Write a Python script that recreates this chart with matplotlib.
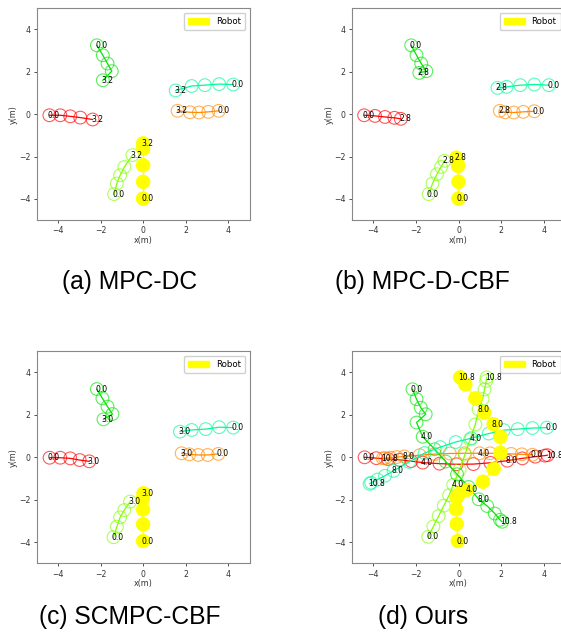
import matplotlib
matplotlib.use("Agg")
import matplotlib.pyplot as plt
from matplotlib.patches import Circle, Patch

# ---------------- data ----------------
robot_colors = ["#FF0000", "#FF8C00", "#FFFF00", "#80FF00", "#00E600", "#00FA9A"]
# order: red, orange, yellow(filled), chartreuse, green, spring green

# Panel (a) MPC-DC
a_times = [0.0, 0.8, 1.6, 2.4, 3.2]
a_x = [[-4.40, -3.89, -3.42, -2.95, -2.37],
       [3.55, 3.06, 2.62, 2.20, 1.62],
       [0.00, 0.00, 0.00, 0.00, 0.00],
       [-1.36, -1.23, -1.08, -0.88, -0.50],
       [-2.17, -1.89, -1.67, -1.47, -1.89],
       [4.23, 3.57, 2.90, 2.28, 1.53]]
a_y = [[-0.05, -0.05, -0.10, -0.16, -0.25],
       [0.16, 0.11, 0.08, 0.09, 0.16],
       [-3.98, -3.19, -2.41, -1.62, -1.38],
       [-3.77, -3.27, -2.88, -2.49, -1.93],
       [3.25, 2.78, 2.39, 2.03, 1.60],
       [1.40, 1.42, 1.37, 1.33, 1.12]]
a_label_idx = [0, 4]

# Panel (b) MPC-D-CBF
b_times = [0.0, 0.8, 1.6, 2.4, 2.8]
b_x = [[-4.43, -3.92, -3.45, -3.01, -2.71],
       [3.56, 3.04, 2.59, 2.19, 1.94],
       [0.00, 0.00, -0.02, -0.06, -0.10],
       [-1.40, -1.22, -1.01, -0.82, -0.66],
       [-2.22, -1.97, -1.75, -1.51, -1.84],
       [4.24, 3.56, 2.90, 2.26, 1.83]]
b_y = [[-0.05, -0.08, -0.13, -0.17, -0.22],
       [0.14, 0.11, 0.08, 0.09, 0.16],
       [-3.98, -3.19, -2.44, -2.25, -2.05],
       [-3.77, -3.27, -2.83, -2.49, -2.20],
       [3.25, 2.78, 2.39, 2.03, 1.95],
       [1.37, 1.40, 1.37, 1.29, 1.24]]
b_label_idx = [0, 4]

# Panel (c) SCMPC-CBF
c_times = [0.0, 0.8, 1.6, 2.4, 3.0]
c_x = [[-4.39, -3.89, -3.42, -2.98, -2.53],
       [3.53, 3.03, 2.59, 2.17, 1.81],
       [0.00, 0.00, 0.00, -0.02, 0.02],
       [-1.39, -1.23, -1.08, -0.88, -0.61],
       [-2.17, -1.91, -1.67, -1.44, -1.86],
       [4.23, 3.57, 2.94, 2.28, 1.73]]
c_y = [[-0.02, -0.02, -0.05, -0.13, -0.19],
       [0.16, 0.11, 0.11, 0.14, 0.19],
       [-3.95, -3.16, -2.46, -1.98, -1.70],
       [-3.77, -3.27, -2.83, -2.49, -2.09],
       [3.22, 2.78, 2.39, 2.04, 1.79],
       [1.40, 1.42, 1.33, 1.29, 1.21]]
c_label_idx = [0, 4]

# Panel (d) Ours
d_times = [0.0, 0.8, 1.6, 2.4, 3.2, 4.0, 4.8, 5.6, 6.4, 7.2, 8.0, 8.8, 9.6, 10.4, 10.8]
d_x = [[-4.41, -3.86, -3.31, -2.77, -2.22, -1.68, -0.89, -0.09, 0.70, 1.50, 2.29, 3.00, 3.60, 4.05, 4.18],
       [3.47, 2.97, 2.47, 1.98, 1.48, 0.99, 0.29, -0.41, -1.11, -1.82, -2.55, -2.90, -3.20, -3.45, -3.55],
       [-0.03, -0.08, -0.11, -0.08, 0.10, 0.40, 1.15, 1.65, 1.97, 1.97, 1.65, 1.21, 0.79, 0.32, 0.08],
       [-1.42, -1.18, -0.93, -0.69, -0.44, -0.25, 0.05, 0.30, 0.54, 0.79, 0.95, 1.13, 1.22, 1.30, 1.32],
       [-2.16, -1.97, -1.77, -1.54, -1.97, -1.68, -1.12, -0.60, -0.07, 0.47, 0.95, 1.35, 1.70, 1.95, 2.05],
       [4.15, 3.47, 2.78, 2.13, 1.42, 0.60, -0.13, -0.86, -1.59, -2.32, -3.05, -3.45, -3.80, -4.10, -4.17]]
d_y = [[0.00, -0.04, -0.08, -0.12, -0.18, -0.25, -0.30, -0.33, -0.32, -0.26, -0.16, -0.05, 0.03, 0.08, 0.10],
       [0.12, 0.14, 0.16, 0.18, 0.19, 0.19, 0.19, 0.18, 0.15, 0.10, 0.04, 0.01, -0.02, -0.04, -0.05],
       [-3.95, -3.14, -2.44, -1.90, -1.65, -1.54, -1.15, -0.55, 0.22, 0.97, 1.56, 2.11, 2.78, 3.44, 3.77],
       [-3.75, -3.26, -2.77, -2.28, -1.79, -1.30, -0.59, 0.12, 0.84, 1.55, 2.26, 2.75, 3.20, 3.60, 3.77],
       [3.21, 2.74, 2.34, 2.03, 1.64, 0.97, 0.38, -0.20, -0.80, -1.40, -1.98, -2.30, -2.65, -2.95, -3.04],
       [1.40, 1.38, 1.33, 1.28, 1.12, 0.90, 0.72, 0.48, 0.20, -0.22, -0.64, -0.87, -1.05, -1.20, -1.25]]
d_label_idx = [0, 5, 10, 14]

captions = ["(a) MPC-DC", "(b) MPC-D-CBF", "(c) SCMPC-CBF", "(d) Ours"]
ticks = [-4, -2, 0, 2, 4]
legend_label = "Robot"

# ---------------- layout ----------------
W, H = 561, 633
fig = plt.figure(figsize=(W / 100, H / 100), dpi=100)

def ax_rect(left_px, top_px, w_px=213, h_px=212):
    return [left_px / W, 1 - (top_px + h_px) / H, w_px / W, h_px / H]

panels = [
    (ax_rect(36.6, 8.2), a_times, a_x, a_y, a_label_idx),
    (ax_rect(352.0, 8.2), b_times, b_x, b_y, b_label_idx),
    (ax_rect(36.6, 351.3), c_times, c_x, c_y, c_label_idx),
    (ax_rect(352.0, 351.3), d_times, d_x, d_y, d_label_idx),
]
caption_pos = [(130, 282), (422, 282), (130, 617), (423, 617)]

R = 0.3
for rect, times, xs, ys, lab_idx in panels:
    ax = fig.add_axes(rect)
    ax.set_xlim(-5, 5)
    ax.set_ylim(-5, 5)
    for k, (xr, yr) in enumerate(zip(xs, ys)):
        col = robot_colors[k]
        filled = (k == 2)
        ax.plot(xr, yr, color=col, lw=0.9, zorder=3 if not filled else 4)
        for px, py in zip(xr, yr):
            if filled:
                ax.add_patch(Circle((px, py), R + 0.02, facecolor=col, edgecolor=col,
                                    lw=0.6, zorder=4))
            else:
                ax.add_patch(Circle((px, py), R, fill=False, edgecolor=col,
                                    lw=0.8, alpha=0.65, zorder=3))
        for i in lab_idx:
            ax.text(xr[i] - 0.08, yr[i], f"{times[i]:.1f}", fontsize=5.5,
                    ha="left", va="center", color="black", zorder=6)
    ax.set_xticks(ticks)
    ax.set_yticks(ticks)
    ax.tick_params(labelsize=5.6, length=2.5, width=0.6, pad=2, colors="#333333")
    for s in ax.spines.values():
        s.set_color("#888888")
        s.set_linewidth(0.8)
    ax.set_xlabel("x(m)", fontsize=5.8, labelpad=0.5, color="#333333")
    ax.set_ylabel("y(m)", fontsize=5.8, labelpad=0.5, color="#333333")
    ax.legend(handles=[Patch(color=robot_colors[2], label=legend_label)],
              loc="upper right", fontsize=6.2, handlelength=2.4, borderpad=0.5,
              framealpha=0.9, edgecolor="#cccccc")

for (cx, cy), cap in zip(caption_pos, captions):
    fig.text(cx / W, 1 - cy / H, cap, ha="center", va="center", fontsize=17.7,
             family=["Liberation Sans", "DejaVu Sans"], color="black")

fig.savefig("out.png", dpi=100)
